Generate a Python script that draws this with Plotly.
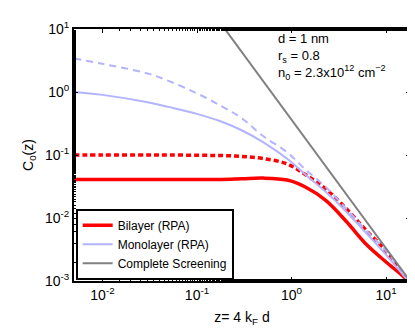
import plotly.graph_objects as go

# values (log-log)
z = [0.005, 0.01, 0.03, 0.05, 0.1, 0.18, 0.3, 0.5, 0.9, 1.4, 2.3, 3.8, 6.2, 10, 15.5, 18]
bilayer = [0.041, 0.041, 0.041, 0.041, 0.041, 0.041, 0.042, 0.043, 0.040, 0.031, 0.019, 0.0088, 0.0038, 0.002, 0.00115, 0.0009]
bilayer_dash = [0.1, 0.1, 0.1, 0.1, 0.099, 0.098, 0.095, 0.088, 0.072, 0.049, 0.029, 0.014, 0.0063, 0.003, 0.0012, 0.0009]
monolayer = [1.0, 0.9, 0.69, 0.58, 0.45, 0.34, 0.245, 0.16, 0.087, 0.049, 0.026, 0.0126, 0.0057, 0.0026, 0.0012, 0.0009]
monolayer_dash = [3.4, 2.8, 1.97, 1.5, 0.95, 0.6, 0.38, 0.2, 0.11, 0.059, 0.031, 0.014, 0.0063, 0.003, 0.0013, 0.001]
screen_z = [0.1, 20]
screen = [40, 0.0008]

x_ticks = [0.01, 0.1, 1, 10]
x_labels = ['10<sup>-2</sup>', '10<sup>-1</sup>', '10<sup>0</sup>', '10<sup>1</sup>']
y_ticks = [0.001, 0.01, 0.1, 1, 10]
y_labels = ['10<sup>-3</sup>', '10<sup>-2</sup>', '10<sup>-1</sup>', '10<sup>0</sup>', '10<sup>1</sup>']

RED = '#ff0000'
BLUE = '#b3b3ff'
GRAY = '#808080'

fig = go.Figure()
fig.add_trace(go.Scatter(x=z, y=bilayer_dash, mode='lines', line=dict(color=RED, width=3.5, dash='5px,3px', shape='spline'), showlegend=False))
fig.add_trace(go.Scatter(x=z, y=monolayer_dash, mode='lines', line=dict(color=BLUE, width=2, dash='7px,5px', shape='spline'), showlegend=False))
fig.add_trace(go.Scatter(x=z, y=bilayer, mode='lines', name='Bilayer (RPA)', line=dict(color=RED, width=3.5, shape='spline')))
fig.add_trace(go.Scatter(x=z, y=monolayer, mode='lines', name='Monolayer (RPA)', line=dict(color=BLUE, width=2, shape='spline')))
fig.add_trace(go.Scatter(x=screen_z, y=screen, mode='lines', name='Complete Screening', line=dict(color=GRAY, width=2)))

axis_common = dict(
    type='log', showgrid=False, zeroline=False,
    showline=True, linecolor='black', linewidth=2, mirror='allticks',
    ticks='inside', ticklen=4, tickcolor='black',
    minor=dict(ticks='inside', ticklen=2, tickcolor='black'),
    tickfont=dict(size=14, color='black'),
)

fig.update_xaxes(range=[-2.301, 1.253], tickvals=x_ticks, ticktext=x_labels,
                 title=dict(text='z= 4 k<sub>F</sub> d', font=dict(size=14, color='black'), standoff=10),
                 **axis_common)
fig.update_yaxes(range=[-3, 1], tickvals=y_ticks, ticktext=y_labels,
                 title=dict(text='C<sub>0</sub>(z)', font=dict(size=14, color='black'), standoff=8),
                 **axis_common)

fig.add_annotation(
    x=0.6, y=1.0, xref='paper', yref='paper', xanchor='left', yanchor='top',
    text='d = 1 nm<br>r<sub>s</sub> = 0.8<br>n<sub>0</sub> = 2.3x10<sup>12</sup> cm<sup>−2</sup>',
    showarrow=False, align='left', font=dict(size=13, color='black'),
)

fig.update_layout(
    width=415, height=328,
    margin=dict(l=66, r=11, t=18, b=55),
    plot_bgcolor='white', paper_bgcolor='white',
    font=dict(family='Liberation Sans, Arial, sans-serif', color='black'),
    legend=dict(x=0.005, y=0.005, xanchor='left', yanchor='bottom',
                bgcolor='white', bordercolor='black', borderwidth=2,
                font=dict(size=12, color='black'), tracegroupgap=0,
                itemwidth=30),
)

fig.write_html('out.html')
